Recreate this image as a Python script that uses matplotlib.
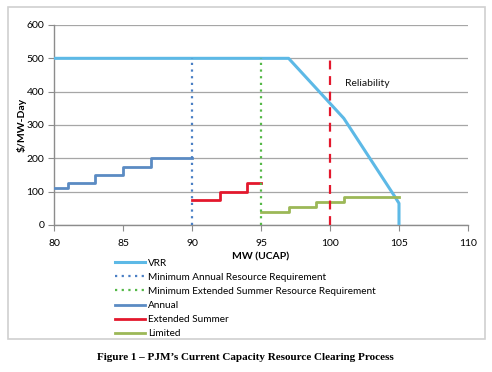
import matplotlib
matplotlib.use("Agg")
import matplotlib.pyplot as plt
from matplotlib.patches import Rectangle

plt.rcParams['font.family'] = ['Lato', 'DejaVu Sans']

# Data
vrr_x = [80, 97, 101, 104.7, 105, 105]
vrr_y = [500, 500, 320, 85, 65, 0]

annual_x = [80, 81, 83, 85, 87, 90]
annual_y = [110, 125, 150, 175, 200, 200]

ext_x = [90, 92, 94, 95]
ext_y = [75, 100, 125, 125]

lim_x = [95, 97, 99, 101, 105]
lim_y = [40, 55, 70, 85, 85]

min_annual_x = 90
min_ext_x = 95
reliability_x = 100
req_top = 500

xticks = [80, 85, 90, 95, 100, 105, 110]
yticks = [0, 100, 200, 300, 400, 500, 600]

W, H = 492, 372
fig = plt.figure(figsize=(W / 100, H / 100), dpi=100)
ax = fig.add_axes([54 / W, 1 - 225 / H, (468 - 54) / W, 200 / H])

c_vrr = '#5DB9E6'
c_annual = '#5B8BC3'
c_ext = '#E3182D'
c_lim = '#9CB857'
c_minann = '#4A7FC4'
c_minext = '#55B848'

fs = 7.2

ax.plot(vrr_x, vrr_y, color=c_vrr, lw=2.2, label='VRR', zorder=3)
ax.plot([min_annual_x, min_annual_x], [0, req_top], color=c_minann, lw=1.6,
        linestyle=(0, (1, 2)), label='Minimum Annual Resource Requirement', zorder=4)
ax.plot([min_ext_x, min_ext_x], [0, req_top], color=c_minext, lw=1.6,
        linestyle=(0, (1, 2)), label='Minimum Extended Summer Resource Requirement', zorder=4)
ax.step(annual_x, annual_y, where='post', color=c_annual, lw=2.0, label='Annual', zorder=3)
ax.step(ext_x, ext_y, where='post', color=c_ext, lw=2.0, label='Extended Summer', zorder=3)
ax.step(lim_x, lim_y, where='post', color=c_lim, lw=2.0, label='Limited', zorder=3)
ax.plot([reliability_x, reliability_x], [0, req_top], color=c_ext, lw=1.6,
        linestyle=(0, (4, 3)), zorder=4)
ax.text(101.1, 425, 'Reliability', fontsize=fs + 0.3, va='center', ha='left', color='#111111')

ax.set_xlim(80, 110)
ax.set_ylim(0, 600)
ax.set_xticks(xticks)
ax.set_yticks(yticks)
ax.grid(axis='y', color='#a6a6a6', lw=0.9)
ax.set_axisbelow(True)
for s in ['top', 'right']:
    ax.spines[s].set_visible(False)
for s in ['left', 'bottom']:
    ax.spines[s].set_color('#8c8c8c')
    ax.spines[s].set_linewidth(1.0)
ax.tick_params(axis='x', length=4, color='#8c8c8c', labelsize=fs + 0.3, pad=6)
ax.tick_params(axis='y', length=4, color='#8c8c8c', labelsize=fs + 0.3, pad=3)
ax.set_xlabel('MW (UCAP)', fontsize=fs + 0.3, fontweight='bold', labelpad=3)
ax.set_ylabel('$/MW-Day', fontsize=fs + 0.3, fontweight='bold', labelpad=0)

handles, labels = ax.get_legend_handles_labels()
leg = fig.legend(handles, labels, loc='upper left', bbox_to_anchor=(115 / W, 1 - 258.5 / H),
                 frameon=False, fontsize=fs, handlelength=3.0, handletextpad=0.3,
                 labelspacing=0.52, borderaxespad=0, borderpad=0)

fig.patches.append(Rectangle((8 / W, 1 - 339 / H), (485 - 8) / W, (339 - 7) / H,
                             transform=fig.transFigure, fill=False,
                             edgecolor='#d0d0d0', lw=1.2))

fig.text(245 / W, 1 - 358 / H, 'Figure 1 \u2013 PJM\u2019s Current Capacity Resource Clearing Process',
         ha='center', va='center', fontsize=8, fontweight='bold', family='Liberation Serif')

fig.savefig('out.png', dpi=100)
